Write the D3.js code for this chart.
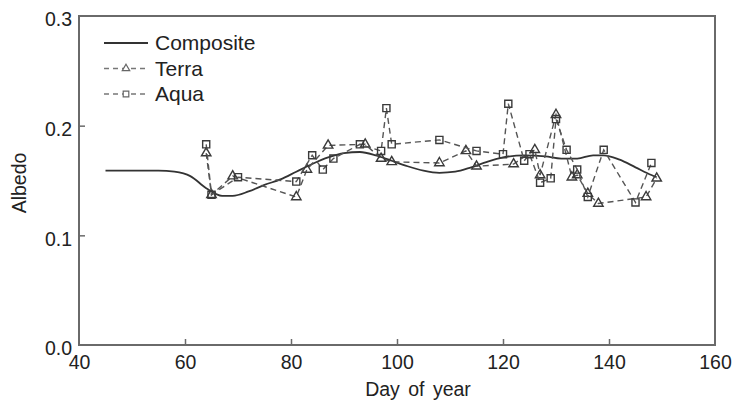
<!DOCTYPE html>
<html>
<head>
<meta charset="utf-8">
<script src="https://cdn.jsdelivr.net/npm/d3@7"></script>
<style>
  body { margin: 0; background: #fff; }
  text { font-family: "Liberation Sans", Arial, sans-serif; fill: #222; }
</style>
</head>
<body>
<svg id="chart" width="733" height="401"></svg>
<script>
// composite curve (day, albedo)
var compositeDays = [45, 50, 55, 58, 61, 64, 67, 69, 72, 75, 78, 81, 84, 87, 90, 93, 96, 99, 102, 105, 108, 111, 114, 117, 120, 124, 128, 131, 134, 137, 139, 142, 145, 148, 149];
var compositeVals = [0.159, 0.159, 0.159, 0.158, 0.154, 0.143, 0.136, 0.136, 0.140, 0.146, 0.151, 0.158, 0.165, 0.171, 0.175, 0.176, 0.173, 0.168, 0.163, 0.159, 0.157, 0.158, 0.162, 0.167, 0.171, 0.173, 0.172, 0.170, 0.170, 0.173, 0.173, 0.169, 0.162, 0.155, 0.153];

var terraDays = [64, 65, 69, 81, 83, 87, 94, 97, 99, 108, 113, 115, 122, 126, 127, 130, 133, 134, 136, 138, 147, 149];
var terraVals = [0.175, 0.137, 0.154, 0.135, 0.160, 0.182, 0.183, 0.170, 0.167, 0.166, 0.177, 0.163, 0.165, 0.178, 0.155, 0.210, 0.153, 0.155, 0.138, 0.129, 0.135, 0.152];

var aquaDays = [64, 65, 70, 81, 84, 86, 88, 93, 97, 98, 99, 108, 115, 120, 121, 124, 125, 127, 129, 130, 132, 134, 136, 139, 145, 148];
var aquaVals = [0.183, 0.137, 0.153, 0.149, 0.173, 0.160, 0.170, 0.183, 0.177, 0.216, 0.183, 0.187, 0.177, 0.174, 0.220, 0.168, 0.174, 0.148, 0.152, 0.206, 0.178, 0.160, 0.135, 0.178, 0.130, 0.166];

var xTicks = [40, 60, 80, 100, 120, 140, 160];
var yTicks = [0.0, 0.1, 0.2, 0.3];
var legendNames = ["Composite", "Terra", "Aqua"];

var margin = {left: 79, right: 18, top: 16, bottom: 56};
var width = 733 - margin.left - margin.right;
var height = 401 - margin.top - margin.bottom;

var svg = d3.select("#chart");
var g = svg.append("g").attr("transform", "translate(" + margin.left + "," + margin.top + ")");

var x = d3.scaleLinear().domain([40, 160]).range([0, width]);
var y = d3.scaleLinear().domain([0, 0.3]).range([height, 0]);

function zip(days, vals) {
  return days.map(function (d, i) { return {day: d, v: vals[i]}; });
}

// frame
g.append("rect")
  .attr("x", 0).attr("y", 0)
  .attr("width", width).attr("height", height)
  .attr("fill", "none")
  .attr("stroke", "#6a6a6a")
  .attr("stroke-width", 2);

// axes with inward ticks
var xAxis = g.append("g")
  .attr("transform", "translate(0," + height + ")")
  .call(d3.axisBottom(x).tickValues(xTicks).tickSize(-6).tickPadding(10).tickFormat(d3.format("d")));
xAxis.select(".domain").remove();
xAxis.selectAll("line").attr("stroke", "#6a6a6a").attr("stroke-width", 1.5)
  .filter(function (d) { return d === 40 || d === 160; }).remove();
xAxis.selectAll("text").style("font-size", "19.5px").attr("fill", "#222");

var yAxis = g.append("g")
  .call(d3.axisLeft(y).tickValues(yTicks).tickSize(-6).tickPadding(7).tickFormat(d3.format(".1f")));
yAxis.select(".domain").remove();
yAxis.selectAll("line").attr("stroke", "#6a6a6a").attr("stroke-width", 1.5)
  .filter(function (d) { return d === 0 || d === 0.3; }).remove();
yAxis.selectAll("text").style("font-size", "19.5px").attr("fill", "#222").attr("dy", "0.5em");

// axis titles
svg.append("text")
  .attr("x", 418)
  .attr("y", 396)
  .attr("text-anchor", "middle")
  .style("font-size", "19.5px")
  .style("word-spacing", "3px")
  .text("Day of year");
svg.append("text")
  .attr("transform", "translate(26,183) rotate(-90)")
  .attr("text-anchor", "middle")
  .style("font-size", "19.5px")
  .text("Albedo");

var line = d3.line().x(function (d) { return x(d.day); }).y(function (d) { return y(d.v); });

// composite
g.append("path")
  .datum(zip(compositeDays, compositeVals))
  .attr("fill", "none")
  .attr("stroke", "#333")
  .attr("stroke-width", 1.8)
  .attr("d", line.curve(d3.curveMonotoneX));

var straight = d3.line().x(function (d) { return x(d.day); }).y(function (d) { return y(d.v); });

function series(data, symbolType) {
  g.append("path")
    .datum(data)
    .attr("fill", "none")
    .attr("stroke", "#555")
    .attr("stroke-width", 1.4)
    .attr("stroke-dasharray", "6,4")
    .attr("d", straight);
  g.selectAll(null)
    .data(data)
    .enter().append("path")
    .attr("transform", function (d) { return "translate(" + x(d.day) + "," + y(d.v) + ")"; })
    .attr("d", d3.symbol().type(symbolType).size(64))
    .attr("fill", "none")
    .attr("stroke", "#3a3a3a")
    .attr("stroke-width", 1.4);
}

series(zip(terraDays, terraVals), d3.symbolTriangle2);
series(zip(aquaDays, aquaVals), d3.symbolSquare2);

// legend
var legend = g.append("g").attr("transform", "translate(25,27)");
legendNames.forEach(function (name, i) {
  var row = legend.append("g").attr("transform", "translate(0," + (i * 25.5) + ")");
  if (i === 0) {
    row.append("line").attr("x1", 0).attr("x2", 44).attr("y1", 0).attr("y2", 0)
      .attr("stroke", "#333").attr("stroke-width", 1.8);
  } else {
    row.append("line").attr("x1", 0).attr("x2", 44).attr("y1", 0).attr("y2", 0)
      .attr("stroke", "#777").attr("stroke-width", 1.3).attr("stroke-dasharray", "5,4");
    row.append("path")
      .attr("transform", "translate(22,0)")
      .attr("d", d3.symbol().type(i === 1 ? d3.symbolTriangle2 : d3.symbolSquare2).size(40))
      .attr("fill", "#fff")
      .attr("stroke", "#666")
      .attr("stroke-width", 1.2);
  }
  row.append("text")
    .attr("x", 51).attr("y", 0).attr("dy", "0.35em")
    .style("font-size", "21px")
    .text(name);
});
</script>
</body>
</html>
